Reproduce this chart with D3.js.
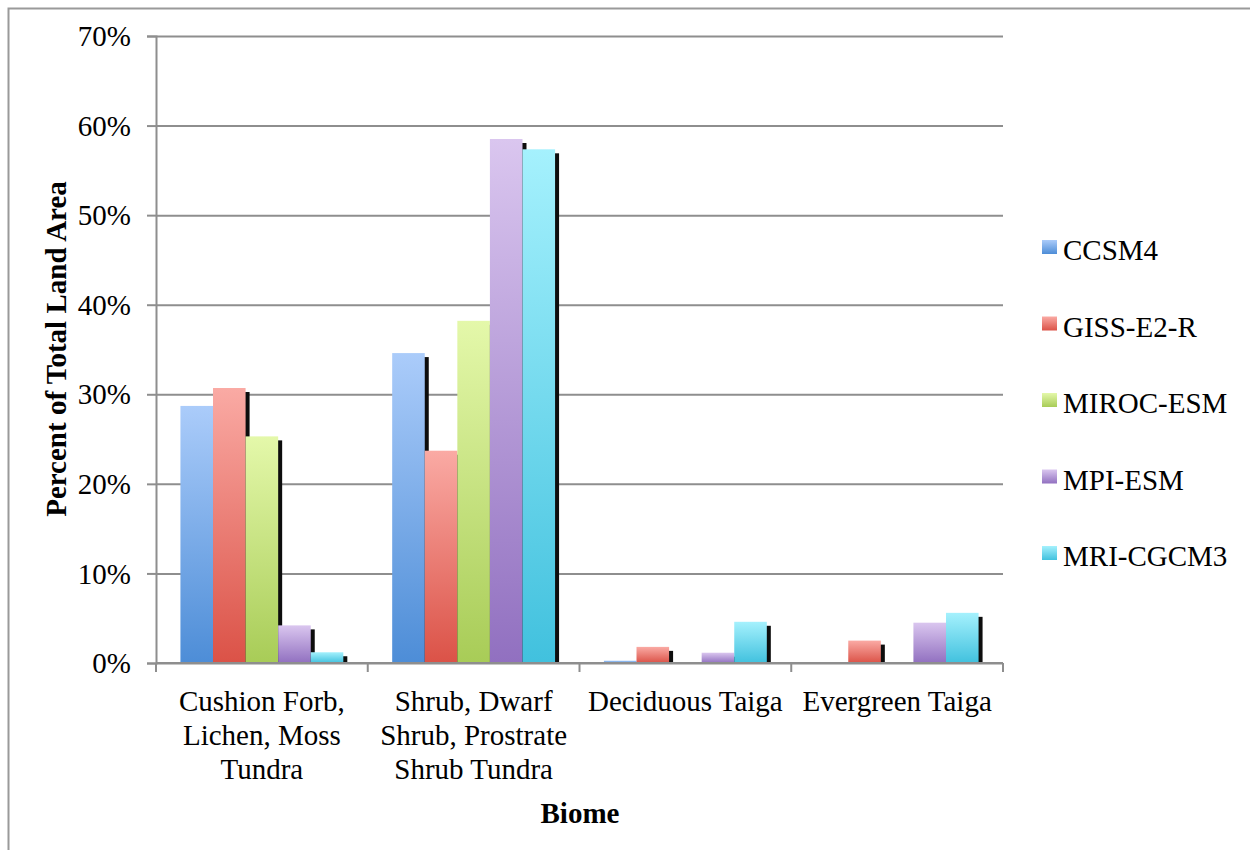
<!DOCTYPE html>
<html>
<head>
<meta charset="utf-8">
<script src="https://cdn.jsdelivr.net/npm/d3@7"></script>
<style>
  html, body { margin: 0; padding: 0; background: #fff; }
  svg { display: block; }
  text { font-family: "Liberation Serif", "Times New Roman", serif; fill: #000; }
</style>
</head>
<body>
<svg id="chart" width="1250" height="850"></svg>
<script>
// Biome categories along the x axis
const categories = [
  "Cushion Forb, Lichen, Moss Tundra",
  "Shrub, Dwarf Shrub, Prostrate Shrub Tundra",
  "Deciduous Taiga",
  "Evergreen Taiga"
];

// Climate models (series)
const models = ["CCSM4", "GISS-E2-R", "MIROC-ESM", "MPI-ESM", "MRI-CGCM3"];

// Percent of total land area per biome, one array per model
const ccsm4   = [28.7, 34.6, 0.26, 0];
const gissE2R = [30.7, 23.7, 1.8, 2.5];
const mirocEsm = [25.3, 38.2, 0, 0];
const mpiEsm  = [4.2, 58.5, 1.15, 4.5];
const mriCgcm3 = [1.2, 57.35, 4.6, 5.6];

const seriesValues = [ccsm4, gissE2R, mirocEsm, mpiEsm, mriCgcm3];

// Y axis ticks (percent)
const yTicks = [0, 10, 20, 30, 40, 50, 60, 70];

// Gradient stops per model: [top, bottom]
const gradientStops = [
  ["#abccfa", "#4d8dd7"],
  ["#faaaa4", "#db5247"],
  ["#e4f8aa", "#a8cc57"],
  ["#dac6ef", "#9170c0"],
  ["#a5f1fd", "#41c1de"]
];

const svg = d3.select("#chart");
const FONT = 29;

// Outer chart frame
svg.append("rect")
  .attr("x", 8.5).attr("y", 8.5)
  .attr("width", 1270).attr("height", 870)
  .attr("fill", "none").attr("stroke", "#9a9a9a").attr("stroke-width", 2);

const plot = { left: 156, right: 1003, top: 36, bottom: 663 };

const y = d3.scaleLinear().domain([0, 70]).range([plot.bottom, plot.top]);
const x0 = d3.scaleBand().domain(categories).range([plot.left, plot.right]).paddingInner(0).paddingOuter(0);
const x1 = d3.scaleBand().domain(models).range([0, x0.bandwidth()]).paddingInner(0).paddingOuter(0.75);

// Gradients
const defs = svg.append("defs");
models.forEach((m, i) => {
  const g = defs.append("linearGradient")
    .attr("id", "grad" + i)
    .attr("x1", 0).attr("y1", 0).attr("x2", 0).attr("y2", 1);
  g.append("stop").attr("offset", "0%").attr("stop-color", gradientStops[i][0]);
  g.append("stop").attr("offset", "100%").attr("stop-color", gradientStops[i][1]);
});

// Horizontal gridlines
const grid = svg.append("g")
  .attr("transform", `translate(${plot.left},0)`)
  .call(d3.axisLeft(y).tickValues(yTicks).tickSize(-(plot.right - plot.left)).tickFormat(""));
grid.select(".domain").remove();
grid.selectAll("line").attr("stroke", "#8e8e8e").attr("stroke-width", 2);

// Y axis with tick labels
const yAxis = svg.append("g")
  .attr("transform", `translate(${plot.left},0)`)
  .call(d3.axisLeft(y).tickValues(yTicks).tickSize(9).tickPadding(16).tickFormat(d => d + "%"));
yAxis.select(".domain").attr("stroke", "#8e8e8e").attr("stroke-width", 2);
yAxis.selectAll(".tick line").attr("stroke", "#8e8e8e").attr("stroke-width", 2);
yAxis.selectAll(".tick text")
  .attr("font-family", "Liberation Serif")
  .attr("font-size", FONT)
  .attr("fill", "#000")
  .attr("dy", "0.33em");

// Bars with drop shadows, drawn series by series
const shadowOffset = 4;
models.forEach((m, i) => {
  const g = svg.append("g");
  const data = categories.map((c, j) => ({ c, v: seriesValues[i][j] }));
  g.selectAll("rect.shadow")
    .data(data.filter(d => y(0) - y(d.v) > shadowOffset))
    .join("rect")
    .attr("class", "shadow")
    .attr("x", d => x0(d.c) + x1(m) + shadowOffset)
    .attr("y", d => y(d.v) + shadowOffset)
    .attr("width", x1.bandwidth())
    .attr("height", d => y(0) - y(d.v) - shadowOffset)
    .attr("fill", "#0d0d0d");
  g.selectAll("rect.bar")
    .data(data.filter(d => d.v > 0))
    .join("rect")
    .attr("class", "bar")
    .attr("x", d => x0(d.c) + x1(m))
    .attr("y", d => y(d.v))
    .attr("width", x1.bandwidth())
    .attr("height", d => y(0) - y(d.v))
    .attr("fill", `url(#grad${i})`);
});

// X axis baseline and category boundary ticks
const xAxis = svg.append("g");
xAxis.append("line")
  .attr("x1", plot.left).attr("x2", plot.right)
  .attr("y1", y(0)).attr("y2", y(0))
  .attr("stroke", "#8e8e8e").attr("stroke-width", 2);
const boundaries = categories.map(c => x0(c)).concat([x0(categories[categories.length - 1]) + x0.bandwidth()]);
xAxis.selectAll("line.tick")
  .data(boundaries)
  .join("line")
  .attr("class", "tick")
  .attr("x1", d => d).attr("x2", d => d)
  .attr("y1", y(0)).attr("y2", y(0) + 9)
  .attr("stroke", "#8e8e8e").attr("stroke-width", 2);

// Category labels, wrapped to the band width
const labelG = xAxis.selectAll("text.cat")
  .data(categories)
  .join("text")
  .attr("class", "cat")
  .attr("text-anchor", "middle")
  .attr("font-size", FONT)
  .attr("x", d => x0(d) + x0.bandwidth() / 2)
  .attr("y", 711);

labelG.each(function(d) {
  const text = d3.select(this);
  const cx = x0(d) + x0.bandwidth() / 2;
  const words = d.split(" ");
  const maxW = x0.bandwidth() - 4;
  let line = [];
  let lineNo = 0;
  let tspan = text.append("tspan").attr("x", cx).attr("dy", 0);
  words.forEach(w => {
    line.push(w);
    tspan.text(line.join(" "));
    if (tspan.node().getComputedTextLength() > maxW && line.length > 1) {
      line.pop();
      tspan.text(line.join(" "));
      line = [w];
      lineNo++;
      tspan = text.append("tspan").attr("x", cx).attr("dy", 34).text(w);
    }
  });
});

// Axis titles
svg.append("text")
  .attr("x", 580).attr("y", 823)
  .attr("text-anchor", "middle")
  .attr("font-size", FONT)
  .attr("font-weight", "bold")
  .text("Biome");

svg.append("text")
  .attr("transform", `translate(66,349) rotate(-90)`)
  .attr("text-anchor", "middle")
  .attr("font-size", FONT)
  .attr("font-weight", "bold")
  .text("Percent of Total Land Area");

// Legend
const legend = svg.append("g");
const legendItems = legend.selectAll("g")
  .data(models)
  .join("g")
  .attr("transform", (d, i) => `translate(1042,${260 + i * 76.5})`);
legendItems.append("rect")
  .attr("x", 0).attr("y", -20)
  .attr("width", 15).attr("height", 14)
  .attr("fill", (d, i) => `url(#grad${i})`);
legendItems.append("text")
  .attr("x", 21).attr("y", 0)
  .attr("font-size", FONT)
  .text(d => d);
</script>
</body>
</html>
